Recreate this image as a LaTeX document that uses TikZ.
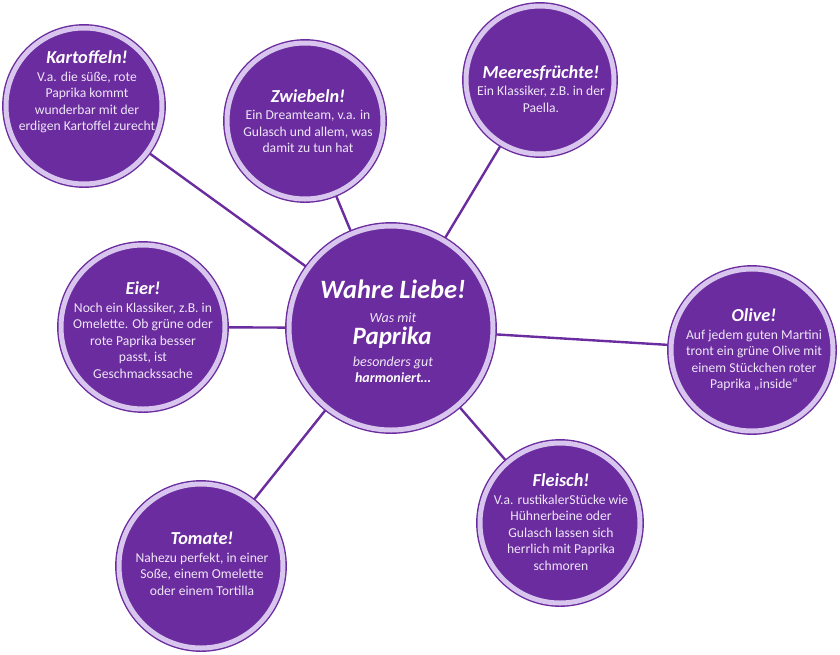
\documentclass[tikz,border=0pt]{standalone}
\usepackage{fontspec}
\setmainfont{Carlito}
\usetikzlibrary{backgrounds}
\definecolor{berrycol}{HTML}{6A2C9E}
\definecolor{ringcol} {HTML}{D9C6EE}
\definecolor{notecol} {HTML}{EFE6F8}
\newcommand{\bubtitle}[1]{{\bfseries\itshape\fontsize{18.3}{22}\selectfont\color{white}#1}}
\tikzset{
  bubble/.style={circle, draw=berrycol, line width=1.4pt, double=ringcol, double distance=5pt, fill=berrycol, inner sep=0pt},
  note/.style={align=center, text=notecol, font=\fontsize{13.6}{16.5}\selectfont, inner sep=0pt},
  hubline/.style={anchor=mid, inner sep=0pt, text=notecol},
  link/.style={draw=berrycol, line width=2.4pt},
}

\begin{document}
\begin{tikzpicture}[x=1pt, y=-1pt]
  \useasboundingbox (0,0) rectangle (840,654);
  % circles
  \node[bubble, minimum size=204pt] (hub)     at (391,328) {};
  \node[bubble, minimum size=156pt] (kart)    at (84,106)  {};
  \node[bubble, minimum size=156pt] (zwie)    at (305,121) {};
  \node[bubble, minimum size=148pt] (meer)    at (540,80)  {};
  \node[bubble, minimum size=164pt] (eier)    at (143,327) {};
  \node[bubble, minimum size=162pt] (olive)   at (752,350) {};
  \node[bubble, minimum size=160pt] (fleisch) at (560,523) {};
  \node[bubble, minimum size=164pt] (tomate)  at (201,566) {};
  % connectors behind the circles
  \begin{scope}[on background layer]
    \foreach \leaf in {kart, zwie, meer, eier, olive, fleisch, tomate}
      \draw[link] (hub.center) -- (\leaf.center);
  \end{scope}
  % centre text
  \node[hubline, text=white, font=\bfseries\itshape\fontsize{26.5}{30}\selectfont] (hub-title) at (393,296) {Wahre Liebe!};
  \node[hubline, font=\itshape\fontsize{14}{16}\selectfont] (hub-was) at (393,320) {Was mit};
  \node[hubline, text=white, font=\bfseries\itshape\fontsize{25}{28}\selectfont] (hub-paprika) at (392,342) {Paprika};
  \node[hubline, font=\itshape\fontsize{14}{16}\selectfont] (hub-gut) at (393,364) {besonders gut};
  \node[hubline, text=white, font=\bfseries\itshape\fontsize{14}{16}\selectfont] (hub-harm) at (393,380) {harmoniert…};
  % leaf texts
  \node[note] (kart-txt) at (87,92) {\bubtitle{Kartoffeln!}\\[1pt]
    V.a. die süße, rote\\ Paprika kommt\\ wunderbar mit der\\ erdigen Kartoffel zurecht};
  \node[note] (zwie-txt) at (308,121) {\bubtitle{Zwiebeln!}\\[1pt]
    Ein Dreamteam, v.a. in\\ Gulasch und allem, was\\ damit zu tun hat};
  \node[note] (meer-txt) at (541,89) {\bubtitle{Meeresfrüchte!}\\[1pt]
    Ein Klassiker, z.B. in der\\ Paella.};
  \node[note] (eier-txt) at (143,330) {\bubtitle{Eier!}\\[1pt]
    Noch ein Klassiker, z.B. in\\ Omelette. Ob grüne oder\\ rote Paprika besser\\ passt, ist\\ Geschmackssache};
  \node[note] (olive-txt) at (754,350) {\bubtitle{Olive!}\\[1pt]
    Auf jedem guten Martini\\ tront ein grüne Olive mit\\ einem Stückchen roter\\ Paprika „inside“};
  \node[note] (fleisch-txt) at (561,522) {\bubtitle{Fleisch!}\\[1pt]
    V.a. rustikalerStücke wie\\ Hühnerbeine oder\\ Gulasch lassen sich\\ herrlich mit Paprika\\ schmoren};
  \node[note] (tomate-txt) at (202,564) {\bubtitle{Tomate!}\\[1pt]
    Nahezu perfekt, in einer\\ Soße, einem Omelette\\ oder einem Tortilla};
\end{tikzpicture}
\end{document}
